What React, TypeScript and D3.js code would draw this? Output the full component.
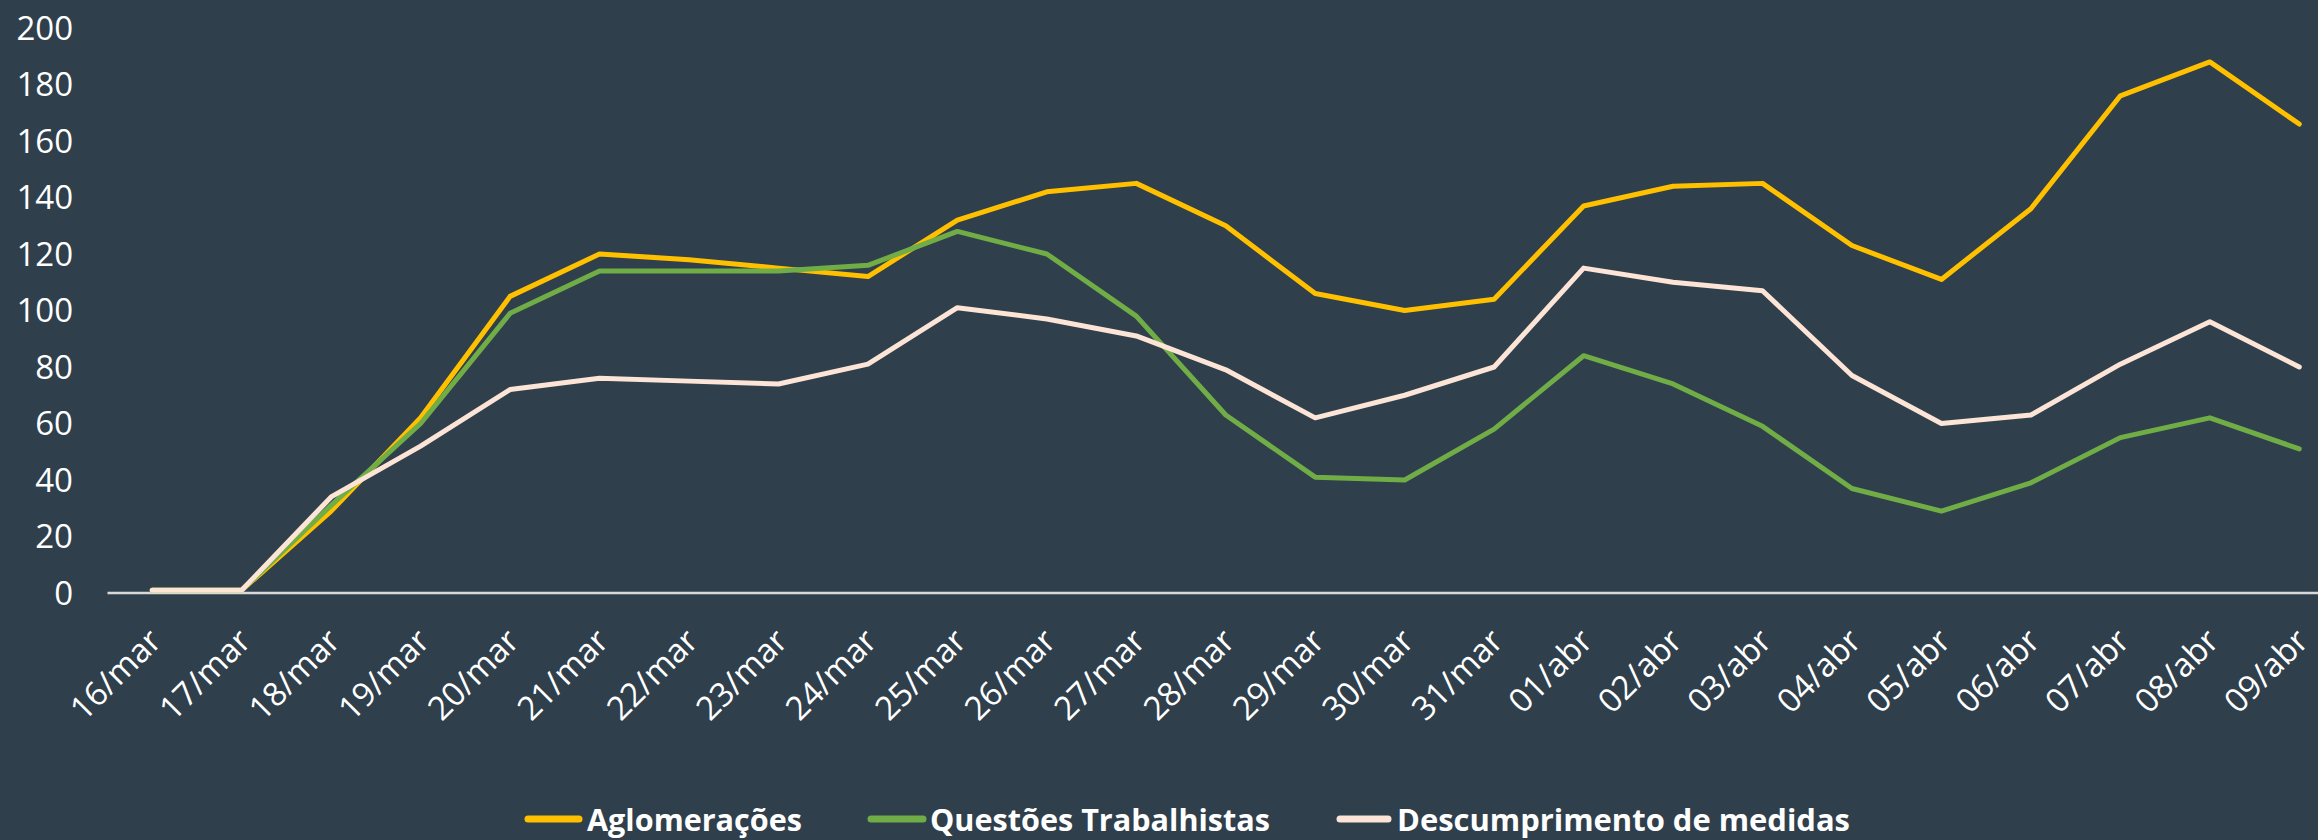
import React from "react";
import * as d3 from "d3";

const categories = [
  "16/mar","17/mar","18/mar","19/mar","20/mar","21/mar","22/mar","23/mar","24/mar","25/mar",
  "26/mar","27/mar","28/mar","29/mar","30/mar","31/mar","01/abr","02/abr","03/abr","04/abr",
  "05/abr","06/abr","07/abr","08/abr","09/abr",
];
const aglomeracoes = [1,1,29,62,105,120,118,115,112,132,142,145,130,106,100,104,137,144,145,123,111,136,176,188,166];
const questoesTrabalhistas = [1,1,31,60,99,114,114,114,116,128,120,98,63,41,40,58,84,74,59,37,29,39,55,62,51];
const descumprimento = [1,1,34,52,72,76,75,74,81,101,97,91,79,62,70,80,115,110,107,77,60,63,81,96,80];
const yTicks = [0,20,40,60,80,100,120,140,160,180,200];
const seriesNames = ["Aglomerações","Questões Trabalhistas","Descumprimento de medidas"];

const W = 2318, H = 840;
const BG = "#2F3F4C";
const COLORS = ["#FFC000", "#70AD47", "#FCE4D6"];

export default function App() {
  const x = d3.scalePoint<string>().domain(categories).range([107.5, 2344]).padding(0.5);
  const y = d3.scaleLinear().domain([0, 200]).range([593, 28]);
  const line = d3.line<number>().x((_, i) => x(categories[i]) as number).y(d => y(d));
  const series = [aglomeracoes, questoesTrabalhistas, descumprimento];
  const legend = [
    { sx: [528, 579], tx: 587, tw: 215 },
    { sx: [871, 923], tx: 930, tw: 340 },
    { sx: [1340, 1388], tx: 1397, tw: 453 },
  ];
  const font = "'Open Sans', sans-serif";
  return (
    <svg width={W} height={H} style={{ position: "absolute", left: 0, top: 0, display: "block" }}>
      <rect x={0} y={0} width={W} height={H} fill={BG} />
      {yTicks.map(t => (
        <text key={t} x={73} y={y(t)} dy="0.35em" textAnchor="end" fill="#FFFFFF" fontFamily={font} fontSize={33}>{t}</text>
      ))}
      <line x1={107.5} x2={W} y1={y(0)} y2={y(0)} stroke="#D9D9D9" strokeWidth={2.5} />
      {categories.map(c => (
        <text key={c} transform={`translate(${(x(c) as number) + 11},643) rotate(-45)`} textAnchor="end" fill="#FFFFFF" fontFamily={font} fontSize={33}>{c}</text>
      ))}
      {series.map((s, i) => (
        <path key={i} d={line(s) as string} fill="none" stroke={COLORS[i]} strokeWidth={5} strokeLinecap="round" strokeLinejoin="round" />
      ))}
      {seriesNames.map((n, i) => (
        <g key={n}>
          <line x1={legend[i].sx[0]} x2={legend[i].sx[1]} y1={819} y2={819} stroke={COLORS[i]} strokeWidth={7} strokeLinecap="round" />
          <text x={legend[i].tx} y={831} fill="#FFFFFF" fontFamily={font} fontWeight={700} fontSize={31} textLength={legend[i].tw} lengthAdjust="spacingAndGlyphs">{n}</text>
        </g>
      ))}
    </svg>
  );
}
